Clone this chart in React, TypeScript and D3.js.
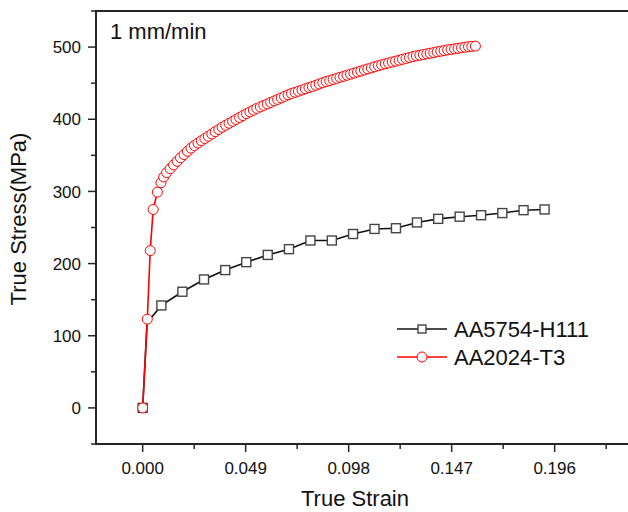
import React, { useRef, useEffect } from "react";
import * as d3 from "d3";

// AA5754-H111 (black squares); index 1 is a line-only point
const aa5754Strain = [0, 0.0021, 0.0089, 0.0189, 0.0292, 0.0393, 0.0493, 0.0595, 0.0696, 0.0798, 0.09, 0.1001, 0.1103, 0.1205, 0.1305, 0.1406, 0.1508, 0.161, 0.1711, 0.1812, 0.1912];
const aa5754Stress = [0, 118, 142, 161, 178, 191, 202, 212, 220, 232, 232, 241, 248, 249, 257, 262, 265, 267, 270, 274, 275];
const aa5754NoMarker = [1];

// AA2024-T3 (red circles)
const aa2024Strain = [
  0, 0.0022, 0.0036, 0.005, 0.007, 0.0087, 0.01,
  0.0114, 0.0131, 0.0147, 0.0164, 0.018, 0.0197, 0.0213, 0.023, 0.0246, 0.0263,
  0.0279, 0.0296, 0.0312, 0.0329, 0.0345, 0.0362, 0.0378, 0.0395, 0.0411, 0.0428,
  0.0444, 0.0461, 0.0477, 0.0494, 0.051, 0.0527, 0.0543, 0.056, 0.0576, 0.0593,
  0.0609, 0.0626, 0.0642, 0.0659, 0.0675, 0.0692, 0.0708, 0.0725, 0.0741, 0.0758,
  0.0774, 0.0791, 0.0807, 0.0824, 0.084, 0.0857, 0.0873, 0.089, 0.0906, 0.0923,
  0.0939, 0.0956, 0.0972, 0.0989, 0.1005, 0.1022, 0.1038, 0.1055, 0.1071, 0.1088,
  0.1104, 0.1121, 0.1137, 0.1154, 0.117, 0.1187, 0.1203, 0.122, 0.1236, 0.1253,
  0.1269, 0.1286, 0.1302, 0.1319, 0.1335, 0.1352, 0.1368, 0.1385, 0.1401, 0.1418,
  0.1434, 0.1451, 0.1467, 0.1484, 0.15, 0.1517, 0.1533, 0.155, 0.1566, 0.1583,
];
const aa2024Stress = [
  0, 123, 218, 275, 299, 312, 320,
  326, 331.5, 336.7, 341.7, 346.6, 351.1, 355.7, 360, 363.6, 367,
  370.2, 373.3, 376.4, 379.6, 382.7, 385.8, 388.9, 391.7, 394.4, 397.1,
  399.7, 402.4, 405.1, 407.8, 410.2, 412.6, 415, 417.1, 419.2, 421.2,
  423.3, 425.4, 427.5, 429.6, 431.7, 433.8, 435.7, 437.3, 438.9, 440.5,
  442.2, 443.8, 445.4, 447.1, 448.9, 450.6, 452.2, 453.6, 455.1, 456.6,
  458.1, 459.5, 461, 462.5, 463.9, 465.4, 466.8, 468.3, 469.8, 471.2,
  472.7, 474.2, 475.5, 476.8, 478, 479.3, 480.5, 481.8, 483, 484.3,
  485.6, 486.8, 487.8, 488.7, 489.6, 490.6, 491.5, 492.4, 493.4, 494.3,
  495.2, 496.1, 496.8, 497.6, 498.3, 499, 499.8, 500.5, 501, 501.3,
];

const xMajorTicks = [0, 0.049, 0.098, 0.147, 0.196];
const xMinorTicks = [0.0245, 0.0735, 0.1225, 0.1715, 0.2205];
const yMajorTicks = [0, 100, 200, 300, 400, 500];
const yMinorTicks = [-50, 50, 150, 250, 350, 450, 550];

const seriesNames = ["AA5754-H111", "AA2024-T3"];

const FONT = "'Liberation Sans', Arial, sans-serif";

const App = () => {
  const ref = useRef<SVGSVGElement>(null);

  useEffect(() => {
    const svg = d3.select(ref.current);
    svg.selectAll("*").remove();

    const width = 628;
    const height = 512;
    const left = 96, top = 11, bottom = 444, right = 640;

    const x = d3.scaleLinear().domain([-0.0222, 0.2366]).range([left, right]);
    const y = d3.scaleLinear().domain([-50, 550]).range([bottom, top]);

    svg.attr("width", width).attr("height", height);

    // frame
    svg.append("path")
      .attr("d", `M${right},${top}H${left}V${bottom}H${right}`)
      .attr("fill", "none")
      .attr("stroke", "#262626")
      .attr("stroke-width", 2);

    // y ticks
    const yAxis = svg.append("g").attr("transform", `translate(${left},0)`);
    yAxis.selectAll(".ymaj").data(yMajorTicks).enter().append("line")
      .attr("x1", -8).attr("x2", 0)
      .attr("y1", (d) => y(d)).attr("y2", (d) => y(d))
      .attr("stroke", "#262626").attr("stroke-width", 1.5);
    yAxis.selectAll(".ymin").data(yMinorTicks).enter().append("line")
      .attr("x1", -5).attr("x2", 0)
      .attr("y1", (d) => y(d)).attr("y2", (d) => y(d))
      .attr("stroke", "#262626").attr("stroke-width", 1.5);
    yAxis.selectAll(".ylab").data(yMajorTicks).enter().append("text")
      .attr("x", -15)
      .attr("y", (d) => y(d))
      .attr("dy", "0.36em")
      .attr("text-anchor", "end")
      .attr("font-family", FONT)
      .attr("font-size", 17)
      .attr("fill", "#111")
      .text((d) => d);

    // x ticks
    const xAxis = svg.append("g").attr("transform", `translate(0,${bottom})`);
    xAxis.selectAll(".xmaj").data(xMajorTicks).enter().append("line")
      .attr("x1", (d) => x(d)).attr("x2", (d) => x(d))
      .attr("y1", 0).attr("y2", 8)
      .attr("stroke", "#262626").attr("stroke-width", 1.5);
    xAxis.selectAll(".xmin").data(xMinorTicks).enter().append("line")
      .attr("x1", (d) => x(d)).attr("x2", (d) => x(d))
      .attr("y1", 0).attr("y2", 5)
      .attr("stroke", "#262626").attr("stroke-width", 1.5);
    xAxis.selectAll(".xlab").data(xMajorTicks).enter().append("text")
      .attr("x", (d) => x(d))
      .attr("y", 30)
      .attr("text-anchor", "middle")
      .attr("font-family", FONT)
      .attr("font-size", 17)
      .attr("fill", "#111")
      .text((d) => d3.format(".3f")(d));

    // axis titles
    svg.append("text")
      .attr("transform", "translate(26,219) rotate(-90)")
      .attr("text-anchor", "middle")
      .attr("font-family", FONT)
      .attr("font-size", 22)
      .attr("fill", "#111")
      .text("True Stress(MPa)");

    svg.append("text")
      .attr("x", 355)
      .attr("y", 506)
      .attr("text-anchor", "middle")
      .attr("font-family", FONT)
      .attr("font-size", 22)
      .attr("fill", "#111")
      .text("True Strain");

    svg.append("text")
      .attr("x", 110)
      .attr("y", 39)
      .attr("font-family", FONT)
      .attr("font-size", 22)
      .attr("fill", "#111")
      .text("1 mm/min");

    const line = d3.line<[number, number]>()
      .x((d) => x(d[0]))
      .y((d) => y(d[1]));

    // AA5754-H111
    const blackPts: [number, number][] = aa5754Strain.map((s, i) => [s, aa5754Stress[i]]);
    svg.append("path")
      .attr("d", line(blackPts))
      .attr("fill", "none")
      .attr("stroke", "#111")
      .attr("stroke-width", 1.6);
    svg.selectAll(".sq")
      .data(blackPts.filter((_, i) => !aa5754NoMarker.includes(i)))
      .enter().append("rect")
      .attr("x", (d) => x(d[0]) - 4.5)
      .attr("y", (d) => y(d[1]) - 4.5)
      .attr("width", 9).attr("height", 9)
      .attr("fill", "#fff")
      .attr("stroke", "#444")
      .attr("stroke-width", 1.4);

    // AA2024-T3
    const redPts: [number, number][] = aa2024Strain.map((s, i) => [s, aa2024Stress[i]]);
    svg.append("path")
      .attr("d", line(redPts))
      .attr("fill", "none")
      .attr("stroke", "#ff0000")
      .attr("stroke-width", 1.6);
    svg.selectAll(".ci")
      .data(redPts)
      .enter().append("circle")
      .attr("cx", (d) => x(d[0]))
      .attr("cy", (d) => y(d[1]))
      .attr("r", 5)
      .attr("fill", "#fff")
      .attr("stroke", "#ff0000")
      .attr("stroke-width", 1);

    // legend
    const lg = svg.append("g");
    seriesNames.forEach((name, i) => {
      const ly = 329 + i * 28;
      const col = i === 0 ? "#111" : "#ff0000";
      lg.append("line")
        .attr("x1", 397).attr("x2", 447)
        .attr("y1", ly).attr("y2", ly)
        .attr("stroke", col).attr("stroke-width", 1.6);
      if (i === 0) {
        lg.append("rect")
          .attr("x", 418).attr("y", ly - 4)
          .attr("width", 8).attr("height", 8)
          .attr("fill", "#fff").attr("stroke", "#444").attr("stroke-width", 1.4);
      } else {
        lg.append("circle")
          .attr("cx", 422).attr("cy", ly).attr("r", 5)
          .attr("fill", "#fff").attr("stroke", "#ff0000").attr("stroke-width", 1);
      }
      lg.append("text")
        .attr("x", 454)
        .attr("y", ly + 8)
        .attr("font-family", FONT)
        .attr("font-size", 22)
        .attr("fill", "#111")
        .text(name);
    });
  }, []);

  return (
    <div style={{ position: "absolute", left: 0, top: 0 }}>
      <svg ref={ref} style={{ display: "block", background: "#fff" }}></svg>
    </div>
  );
};

export default App;
